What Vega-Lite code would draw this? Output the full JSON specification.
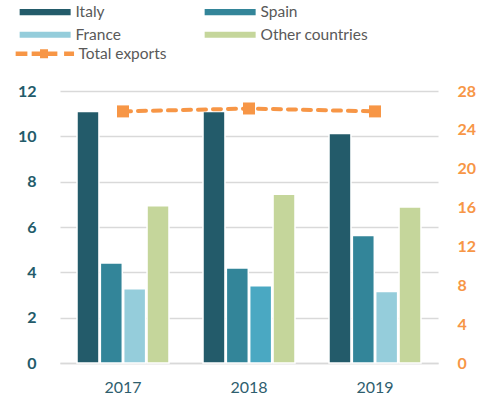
{
  "$schema": "https://vega.github.io/schema/vega-lite/v6.json",
  "width": 378,
  "height": 272,
  "autosize": {"type": "none"},
  "padding": {"left": 60, "top": 91, "right": 48, "bottom": 40},
  "config": {"view": {"stroke": null}, "font": "Lato", "background": "white"},
  "datasets": {
    "bars": [
      {"year": "2017", "country": "Italy", "value": 11.1},
      {"year": "2017", "country": "Spain", "value": 4.41},
      {"year": "2017", "country": "France", "value": 3.28},
      {"year": "2017", "country": "Other countries", "value": 6.94},
      {"year": "2018", "country": "Italy", "value": 11.1},
      {"year": "2018", "country": "Spain", "value": 4.19},
      {"year": "2018", "country": "France", "value": 3.41},
      {"year": "2018", "country": "Other countries", "value": 7.44},
      {"year": "2019", "country": "Italy", "value": 10.13},
      {"year": "2019", "country": "Spain", "value": 5.62},
      {"year": "2019", "country": "France", "value": 3.15},
      {"year": "2019", "country": "Other countries", "value": 6.88}
    ],
    "totals": [
      {"year": "2017", "series": "Total exports", "total": 25.9},
      {"year": "2018", "series": "Total exports", "total": 26.2},
      {"year": "2019", "series": "Total exports", "total": 25.9}
    ]
  },
  "layer": [
    {
      "data": {"name": "bars"},
      "mark": {"type": "bar", "stroke": "white", "strokeWidth": 1.5},
      "encoding": {
        "x": {
          "field": "year", "type": "nominal",
          "scale": {"paddingInner": 0.27, "paddingOuter": 0.135},
          "axis": {"title": null, "labelAngle": 0, "domainColor": "#D9D9D9", "domainWidth": 1.5, "ticks": false, "labelPadding": 16, "labelFontSize": 16, "labelColor": "#2E5E6E"}
        },
        "xOffset": {"field": "country", "type": "nominal", "scale": {"domain": ["Italy", "Spain", "France", "Other countries"], "paddingInner": 0.06}},
        "y": {
          "field": "value", "type": "quantitative",
          "scale": {"domain": [0, 12]},
          "axis": {"title": null, "values": [0, 2, 4, 6, 8, 10, 12], "grid": true, "gridColor": "#D9D9D9", "gridWidth": 1.5, "domain": false, "ticks": false, "labelPadding": 24, "labelFontSize": 16, "labelFontWeight": "bold", "labelColor": "#235B6A"}
        },
        "color": {
          "condition": {"test": "datum.country === 'France' && datum.year === '2018'", "value": "#4AA8C2"},
          "field": "country", "type": "nominal",
          "scale": {"domain": ["Italy", "Spain", "France", "Other countries"], "range": ["#235B6A", "#338599", "#95CDDB", "#C5D69B"]},
          "legend": {"orient": "none", "legendX": -43, "legendY": -87, "columns": 2, "direction": "horizontal", "title": null, "symbolType": "M-1,-0.6H9V0.6H-1Z", "symbolSize": 104, "symbolStrokeWidth": 0, "symbolOpacity": 1, "labelOffset": 43, "labelFontSize": 15.5, "labelColor": "#595959", "columnPadding": 81, "rowPadding": 6}
        }
      }
    },
    {
      "data": {"name": "totals"},
      "encoding": {
        "x": {"field": "year", "type": "nominal"},
        "y": {
          "field": "total", "type": "quantitative",
          "scale": {"domain": [0, 28]},
          "axis": {"orient": "right", "title": null, "values": [0, 4, 8, 12, 16, 20, 24, 28], "grid": false, "domain": false, "ticks": false, "labelPadding": 19, "labelFontSize": 16, "labelFontWeight": "bold", "labelColor": "#F79646"}
        }
      },
      "layer": [
        {"mark": {"type": "line", "color": "#F79646", "strokeWidth": 4, "strokeDash": [8, 7], "strokeCap": "round"}},
        {
          "mark": {"type": "point", "shape": "square", "filled": true, "size": 144, "opacity": 1},
          "encoding": {
            "color": {
              "field": "series", "type": "nominal",
              "scale": {"range": ["#F79646"]},
              "legend": {"orient": "none", "legendX": -47, "legendY": -45, "title": null, "symbolType": "M-1,-0.45H1.3V0.45H-1Z M2.14,-0.45H7.18V0.45H2.14Z M3.78,-0.9H5.35V0.9H3.78Z M8.5,-0.45H10.45V0.45H8.5Z", "symbolSize": 104, "symbolStrokeWidth": 0, "symbolOpacity": 1, "labelOffset": 50, "labelFontSize": 15.5, "labelColor": "#595959"}
            }
          }
        }
      ]
    }
  ],
  "resolve": {"scale": {"y": "independent", "color": "independent"}}
}
